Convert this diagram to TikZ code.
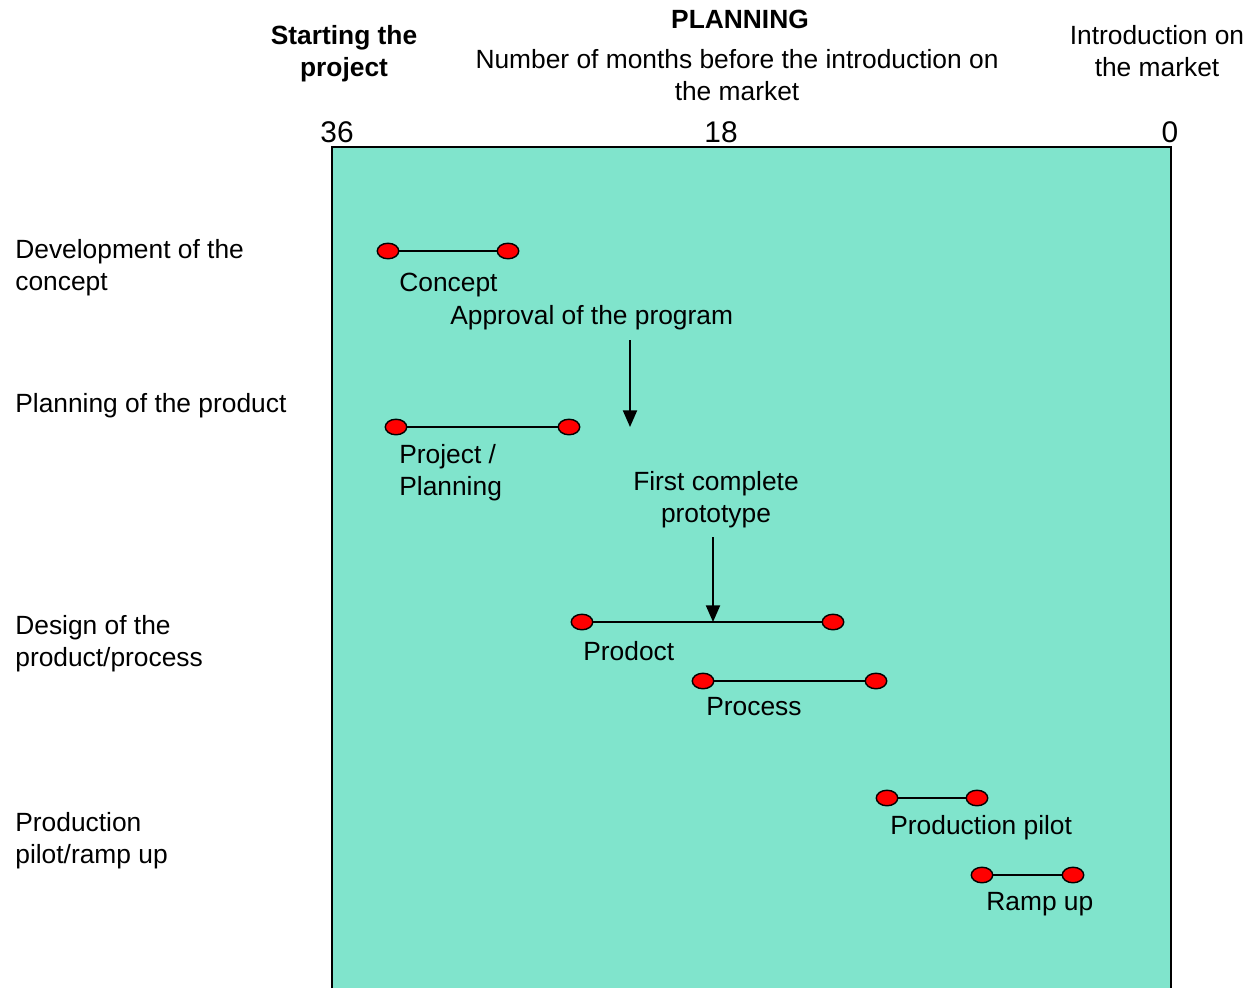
\documentclass[tikz,border=0pt]{standalone}
\usepackage{fontspec}
\setmainfont{Liberation Sans}
\usetikzlibrary{shapes,arrows,arrows.meta,positioning,calc}
\definecolor{chartbg}{RGB}{128,228,204}
\tikzstyle{dot} = [ellipse, draw, fill=red, line width=0.8pt, inner sep=0pt, minimum width=0.43cm, minimum height=0.31cm]
\tikzstyle{bar} = [line width=0.95pt]
\tikzstyle{txt} = [inner sep=0pt, font=\fontsize{15}{18.2}\selectfont]
\tikzstyle{head} = [txt, anchor=north, align=center]
\tikzstyle{phase} = [txt, anchor=north west, align=left]
\tikzstyle{tick} = [inner sep=0pt, anchor=north, font=\fontsize{17}{20}\selectfont]

\begin{document}
\begin{tikzpicture}[x=0.02cm, y=-0.02cm, >={Triangle[length=9.5pt,width=8pt]}]
    \useasboundingbox (0,0) rectangle (1250,988);
    % chart area
    \fill[chartbg] (332,147) rectangle (1171,988);
    \draw[line width=1.1pt] (332,988) -- (332,147) -- (1171,147) -- (1171,988);

    % top headings
    \node[head, font=\fontsize{15}{18.2}\selectfont\bfseries] (start) at (344,25) {Starting the\\project};
    \node[head, font=\fontsize{15}{18.2}\selectfont\bfseries] (plan) at (740,10) {PLANNING};
    \node[head] (months) at (737,49) {Number of months before the introduction on\\the market};
    \node[head] (intro) at (1157,25) {Introduction on\\the market};
    \node[tick] (m36) at (337,121) {36};
    \node[tick] (m18) at (721,121) {18};
    \node[tick] (m0) at (1170,121) {0};

    % phases on the left
    \node[phase] (dev) at (15,239) {Development of the\\concept};
    \node[phase] (prod) at (15,393) {Planning of the product};
    \node[phase] (design) at (15,615) {Design of the\\product/process};
    \node[phase] (pilot) at (15,812) {Production\\pilot/ramp up};

    % concept
    \node[dot] (c1) at (388,251) {};
    \node[dot] (c2) at (508,251) {};
    \draw[bar] (c1) -- (c2);
    \node[phase] (cl) at (399,273) {Concept};
    \node[phase] (appr) at (450,305) {Approval of the program};

    % project / planning
    \node[dot] (pj1) at (396,427) {};
    \node[dot] (pj2) at (569,427) {};
    \draw[bar] (pj1) -- (pj2);
    \node[phase] (pjl) at (399,444) {Project /\\Planning};
    \coordinate (a1) at (630,340);
    \draw[->, line width=1.1pt] (a1) -- (a1 |- pj2);

    % prototype
    \node[head] (proto) at (716,471) {First complete\\prototype};
    \coordinate (a2) at (713,537);

    % product
    \node[dot] (pr1) at (582,622) {};
    \node[dot] (pr2) at (833,622) {};
    \draw[bar] (pr1) -- (pr2);
    \node[phase] (prl) at (583,641) {Prodoct};
    \draw[->, line width=1.1pt] (a2) -- (a2 |- pr1);

    % process
    \node[dot] (ps1) at (703,681) {};
    \node[dot] (ps2) at (876,681) {};
    \draw[bar] (ps1) -- (ps2);
    \node[phase] (psl) at (706,697) {Process};

    % production pilot
    \node[dot] (pp1) at (887,798) {};
    \node[dot] (pp2) at (977,798) {};
    \draw[bar] (pp1) -- (pp2);
    \node[phase] (ppl) at (890,815) {Production pilot};

    % ramp up
    \node[dot] (r1) at (982,875) {};
    \node[dot] (r2) at (1073,875) {};
    \draw[bar] (r1) -- (r2);
    \node[phase] (rl) at (986,892) {Ramp up};
\end{tikzpicture}
\end{document}
